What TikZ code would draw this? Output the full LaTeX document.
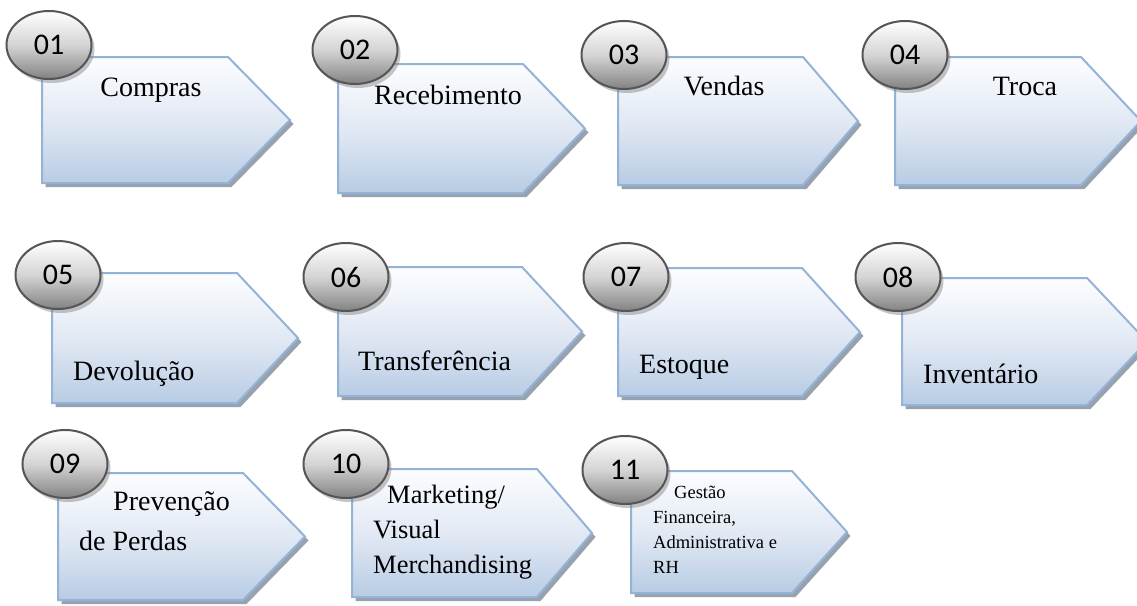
\documentclass[tikz,border=0pt]{standalone}
\usepackage{fontspec}
\setmainfont{Liberation Serif}
\newfontfamily\badgefont{Carlito}
\usetikzlibrary{shapes.geometric,shadows}

\definecolor{boxedge}{RGB}{149,179,215}
\definecolor{boxtop}{RGB}{252,253,255}
\definecolor{boxmid}{RGB}{226,233,244}
\definecolor{boxbottom}{RGB}{184,204,228}
\definecolor{boxshadowc}{RGB}{135,146,160}
\definecolor{badgeedge}{RGB}{85,85,85}
\definecolor{badgebottom}{RGB}{130,130,130}
\definecolor{badgemid}{RGB}{212,212,212}

% arrow-shaped process box: left, top, shoulder x, tip x, bottom
\newcommand\procbox[5]{%
  \draw[boxbody] (#1,#2) -- (#3,#2) -- (#4,{(#2+#5)/2}) -- (#3,#5) -- (#1,#5) -- cycle;
}

\begin{document}
\begin{tikzpicture}[x=1pt,y=-1pt,
  boxbody/.style={draw=boxedge, line width=2pt, line join=miter,
    top color=boxtop, bottom color=boxbottom, middle color=boxmid,
    drop shadow={shadow xshift=3.5pt, shadow yshift=-4pt, fill=boxshadowc, opacity=.85}},
  badge/.style={ellipse, draw=badgeedge, line width=2pt,
    minimum width=85pt, minimum height=68pt, inner sep=0pt,
    top color=white, bottom color=badgebottom, middle color=badgemid,
    drop shadow={shadow xshift=3pt, shadow yshift=-4pt, fill=gray, opacity=.45},
    font=\badgefont\fontsize{30}{30}\selectfont},
  lbl/.style={inner sep=0pt, font=\fontsize{28}{28}\selectfont},
  lblmid/.style={inner sep=0pt, font=\fontsize{26.5}{26.5}\selectfont},
  lblsmall/.style={inner sep=0pt, font=\fontsize{18.5}{18.5}\selectfont}]

\useasboundingbox (0,0) rectangle (1137,605);
\fill[white] (0,0) rectangle (1137,605);

% row 1
\procbox{42}{57}{228}{290}{183}
\procbox{338}{64}{523}{585}{193}
\procbox{618}{57}{803}{858}{185}
\procbox{895}{57}{1081}{1141}{185}
% row 2
\procbox{52}{273}{237}{298}{403}
\procbox{338}{267}{522}{582}{396}
\procbox{618}{268}{802}{860}{396}
\procbox{902}{278}{1087}{1147}{405}
% row 3
\procbox{58}{473}{243}{305}{600}
\procbox{352}{469}{537}{592}{597}
\procbox{631}{471}{792}{847}{593}

% number badges
\node[badge] (n01) at (49,45) {01};
\node[badge] (n02) at (355,50) {02};
\node[badge] (n03) at (624,55) {03};
\node[badge] (n04) at (905,55) {04};
\node[badge] (n05) at (58,275) {05};
\node[badge] (n06) at (346,277) {06};
\node[badge] (n07) at (626,277) {07};
\node[badge] (n08) at (898,277) {08};
\node[badge] (n09) at (65,464) {09};
\node[badge] (n10) at (346,464) {10};
\node[badge] (n11) at (625,470) {11};

% labels
\node[lbl, anchor=base] (t01) at (151,96) {Compras};
\node[lbl, anchor=base] (t02) at (448,104) {Recebimento};
\node[lbl, anchor=base] (t03) at (724,95) {Vendas};
\node[lbl, anchor=base] (t04) at (1025,95) {Troca};

\node[lbl, anchor=base west] (t05) at (73,380) {Devolução};
\node[lbl, anchor=base west] (t06) at (358,370) {Transferência};
\node[lbl, anchor=base west] (t07) at (639,373) {Estoque};
\node[lbl, anchor=base west] (t08) at (923,383) {Inventário};

\node[lbl, anchor=base west] (t09a) at (113,510) {Prevenção};
\node[lbl, anchor=base west] (t09b) at (79,550) {de Perdas};

\node[lblmid, anchor=base west] (t10a) at (387,503) {Marketing/};
\node[lblmid, anchor=base west] (t10b) at (373,538) {Visual};
\node[lblmid, anchor=base west] (t10c) at (373,573) {Merchandising};

\node[lblsmall, anchor=base west] (t11a) at (674,498) {Gestão};
\node[lblsmall, anchor=base west] (t11b) at (653,523) {Financeira,};
\node[lblsmall, anchor=base west] (t11c) at (653,548) {Administrativa e};
\node[lblsmall, anchor=base west] (t11d) at (653,573) {RH};
\end{tikzpicture}
\end{document}
